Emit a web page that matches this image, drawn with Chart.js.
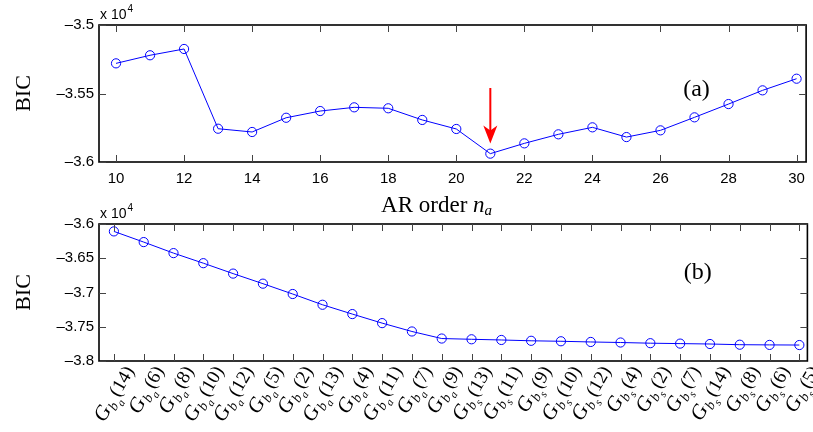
<!DOCTYPE html>
<html>
<head>
  <meta charset="UTF-8">
  <title>BIC versus AR order and model structure</title>
  <script src="https://cdn.jsdelivr.net/npm/chart.js"></script>
  <style>
    body {
      margin: 0;
      background: #fff;
      width: 813px;
      height: 432px;
      overflow: hidden;
      position: relative;
    }
    .panel {
      position: absolute;
      left: 0;
      width: 813px;
    }
    #panelA { top: 0; height: 216px; }
    #panelB { top: 196px; height: 236px; }
  </style>
</head>
<body>
  <div class="panel" id="panelA"><canvas id="chartA" width="813" height="216"></canvas></div>
  <div class="panel" id="panelB"><canvas id="chartB" width="813" height="236"></canvas></div>

  <script>
    // (a) BIC against AR order n_a
    const arOrders = [10, 11, 12, 13, 14, 15, 16, 17, 18, 19, 20, 21, 22, 23, 24, 25, 26, 27, 28, 29, 30];
    const bicA = [-35280, -35221, -35175, -35757, -35781, -35677, -35628, -35601, -35608, -35693, -35759,
                  -35939, -35864, -35798, -35747, -35818, -35769, -35674, -35577, -35477, -35392];
    const xTicksA = [10, 12, 14, 16, 18, 20, 22, 24, 26, 28, 30];
    const yTicksA = [-36000, -35500, -35000];

    // chosen order, marked with the red arrow (from / to in BIC units)
    const chosenOrder = 21;
    const arrowSpan = [-35460, -35865];

    // (b) BIC for each candidate structure G_{b_a}(k) / G_{b_s}(k)
    const modelKinds = ['a', 'a', 'a', 'a', 'a', 'a', 'a', 'a', 'a', 'a', 'a', 'a',
                        's', 's', 's', 's', 's', 's', 's', 's', 's', 's', 's', 's'];
    const modelOrders = [14, 6, 8, 10, 12, 5, 2, 13, 4, 11, 7, 9,
                         13, 11, 9, 10, 12, 4, 2, 7, 14, 8, 6, 5];
    const bicB = [-36108, -36264, -36425, -36572, -36724, -36871, -37022, -37179, -37315, -37447, -37569, -37672,
                  -37683, -37693, -37705, -37712, -37722, -37730, -37740, -37746, -37752, -37762, -37765, -37767];
    const yTicksB = [-38000, -37500, -37000, -36500, -36000];

    Chart.defaults.font.family = '"Liberation Sans", Arial, sans-serif';
    Chart.defaults.font.size = 15;
    Chart.defaults.color = '#000';

    const SERIF = '"Liberation Serif", "Times New Roman", serif';

    function tickText(v) {
      return String(v / 1e4).replace('-', '\u2013');
    }

    // matlab-like box, inward ticks, exponent, y title, panel tag
    const decor = {
      id: 'decor',
      afterDraw(chart, args, opts) {
        const ctx = chart.ctx;
        const a = chart.chartArea;
        const x = chart.scales.x, y = chart.scales.y;
        ctx.save();

        ctx.strokeStyle = '#000';
        ctx.lineWidth = 1.6;
        ctx.strokeRect(a.left, a.top, a.right - a.left, a.bottom - a.top);

        ctx.strokeStyle = '#444';
        ctx.lineWidth = 1;
        ctx.beginPath();
        x.ticks.forEach(t => {
          const px = Math.round(x.getPixelForValue(t.value)) + 0.5;
          ctx.moveTo(px, a.bottom); ctx.lineTo(px, a.bottom - 7);
          ctx.moveTo(px, a.top); ctx.lineTo(px, a.top + 7);
        });
        y.ticks.forEach(t => {
          const py = Math.round(y.getPixelForValue(t.value)) + 0.5;
          ctx.moveTo(a.left, py); ctx.lineTo(a.left + 7, py);
          ctx.moveTo(a.right, py); ctx.lineTo(a.right - 7, py);
        });
        ctx.stroke();

        // x 10^4
        ctx.fillStyle = '#000';
        ctx.textAlign = 'left';
        ctx.textBaseline = 'alphabetic';
        ctx.font = '14px "Liberation Sans", Arial, sans-serif';
        ctx.fillText('x 10', a.left + 1, a.top - 6);
        const w = ctx.measureText('x 10').width;
        ctx.font = '10px "Liberation Sans", Arial, sans-serif';
        ctx.fillText('4', a.left + 2 + w, a.top - 13);

        // panel tag
        ctx.font = '24px ' + SERIF;
        ctx.textAlign = 'center';
        ctx.textBaseline = 'middle';
        ctx.fillText(opts.tag, x.getPixelForValue(opts.tagAt[0]), y.getPixelForValue(opts.tagAt[1]));

        // y title
        ctx.font = '22px ' + SERIF;
        ctx.translate(24, (a.top + a.bottom) / 2);
        ctx.rotate(-Math.PI / 2);
        ctx.fillText('BIC', 0, 0);
        ctx.restore();
      }
    };

    // red arrow + "AR order n_a"
    const extrasA = {
      id: 'extrasA',
      afterDraw(chart) {
        const ctx = chart.ctx;
        const a = chart.chartArea;
        const x = chart.scales.x, y = chart.scales.y;
        ctx.save();
        const px = x.getPixelForValue(chosenOrder);
        const y0 = y.getPixelForValue(arrowSpan[0]);
        const y1 = y.getPixelForValue(arrowSpan[1]);
        ctx.strokeStyle = '#ff0000';
        ctx.fillStyle = '#ff0000';
        ctx.lineWidth = 2;
        ctx.beginPath();
        ctx.moveTo(px, y0);
        ctx.lineTo(px, y1 - 12);
        ctx.stroke();
        ctx.beginPath();
        ctx.moveTo(px, y1);
        ctx.lineTo(px - 7, y1 - 18);
        ctx.lineTo(px, y1 - 13);
        ctx.lineTo(px + 7, y1 - 18);
        ctx.closePath();
        ctx.fill();

        // axis label
        ctx.fillStyle = '#000';
        ctx.textBaseline = 'alphabetic';
        ctx.textAlign = 'left';
        const base = a.bottom + 50;
        ctx.font = '23px ' + SERIF;
        const t1 = 'AR order ';
        const w1 = ctx.measureText(t1).width;
        ctx.font = 'italic 23px ' + SERIF;
        const w2 = ctx.measureText('n').width;
        ctx.font = 'italic 15px ' + SERIF;
        const w3 = ctx.measureText('a').width;
        let cx = (a.left + a.right) / 2 - 16 - (w1 + w2 + w3) / 2;
        ctx.font = '23px ' + SERIF;
        ctx.fillText(t1, cx, base);
        cx += w1;
        ctx.font = 'italic 23px ' + SERIF;
        ctx.fillText('n', cx, base);
        cx += w2;
        ctx.font = 'italic 15px ' + SERIF;
        ctx.fillText('a', cx, base + 3);
        ctx.restore();
      }
    };

    // rotated structure names under panel (b)
    const structLabels = {
      id: 'structLabels',
      afterDraw(chart) {
        const ctx = chart.ctx;
        const a = chart.chartArea;
        const x = chart.scales.x;
        const ang = 60 * Math.PI / 180;
        ctx.save();
        ctx.fillStyle = '#000';
        ctx.textBaseline = 'alphabetic';
        ctx.textAlign = 'left';
        modelOrders.forEach((k, i) => {
          const parts = [
            ['italic 21px ' + SERIF, 'G', 0],
            ['italic 14px ' + SERIF, 'b', 4],
            ['italic 11px ' + SERIF, modelKinds[i], 8],
            ['19px ' + SERIF, '(' + k + ')', 0]
          ];
          let total = 0;
          parts.forEach(p => { ctx.font = p[0]; total += ctx.measureText(p[1]).width + 0.5; });
          const px = x.getPixelForValue(i + 1);
          ctx.save();
          ctx.translate(px + 21, a.bottom + 9);
          ctx.rotate(-ang);
          let cx = -total;
          parts.forEach(p => {
            ctx.font = p[0];
            ctx.fillText(p[1], cx, p[2]);
            cx += ctx.measureText(p[1]).width + 0.5;
          });
          ctx.restore();
        });
        ctx.restore();
      }
    };

    const lineStyle = {
      borderColor: '#0000ff',
      borderWidth: 1,
      pointRadius: 4.6,
      pointBorderWidth: 1,
      pointBorderColor: '#0000ff',
      pointBackgroundColor: 'rgba(0,0,0,0)',
      tension: 0,
      clip: false
    };

    new Chart(document.getElementById('chartA'), {
      type: 'line',
      data: {
        datasets: [Object.assign({
          data: arOrders.map((o, i) => ({ x: o, y: bicA[i] }))
        }, lineStyle)]
      },
      options: {
        responsive: false,
        animation: false,
        devicePixelRatio: 1,
        layout: { padding: { top: 25, right: 4, left: 0, bottom: 0 } },
        plugins: {
          legend: { display: false },
          tooltip: { enabled: false },
          decor: { tag: '(a)', tagAt: [27.06, -35474] }
        },
        scales: {
          x: {
            type: 'linear',
            min: 9.5,
            max: 30.28,
            afterBuildTicks: s => { s.ticks = xTicksA.map(v => ({ value: v })); },
            afterFit: s => { s.height = 54; },
            grid: { display: false, drawTicks: false },
            border: { display: false },
            ticks: { padding: 8, maxRotation: 0, callback: v => String(v) }
          },
          y: {
            min: -36000,
            max: -35000,
            afterBuildTicks: s => { s.ticks = yTicksA.map(v => ({ value: v })); },
            afterFit: s => { s.width = 99; },
            grid: { display: false, drawTicks: false },
            border: { display: false },
            ticks: { padding: 5, callback: tickText }
          }
        }
      },
      plugins: [decor, extrasA]
    });

    new Chart(document.getElementById('chartB'), {
      type: 'line',
      data: {
        datasets: [Object.assign({
          data: bicB.map((v, i) => ({ x: i + 1, y: v }))
        }, lineStyle)]
      },
      options: {
        responsive: false,
        animation: false,
        devicePixelRatio: 1,
        layout: { padding: { top: 28, right: 4, left: 0, bottom: 0 } },
        plugins: {
          legend: { display: false },
          tooltip: { enabled: false },
          decor: { tag: '(b)', tagAt: [20.59, -36707] }
        },
        scales: {
          x: {
            type: 'linear',
            min: 0.5,
            max: 24.27,
            afterBuildTicks: s => { s.ticks = modelOrders.map((k, i) => ({ value: i + 1 })); },
            afterFit: s => { s.height = 71; },
            grid: { display: false, drawTicks: false },
            border: { display: false },
            ticks: { display: false }
          },
          y: {
            min: -38000,
            max: -36000,
            afterBuildTicks: s => { s.ticks = yTicksB.map(v => ({ value: v })); },
            afterFit: s => { s.width = 99; },
            grid: { display: false, drawTicks: false },
            border: { display: false },
            ticks: { padding: 5, callback: tickText }
          }
        }
      },
      plugins: [decor, structLabels]
    });
  </script>
</body>
</html>
